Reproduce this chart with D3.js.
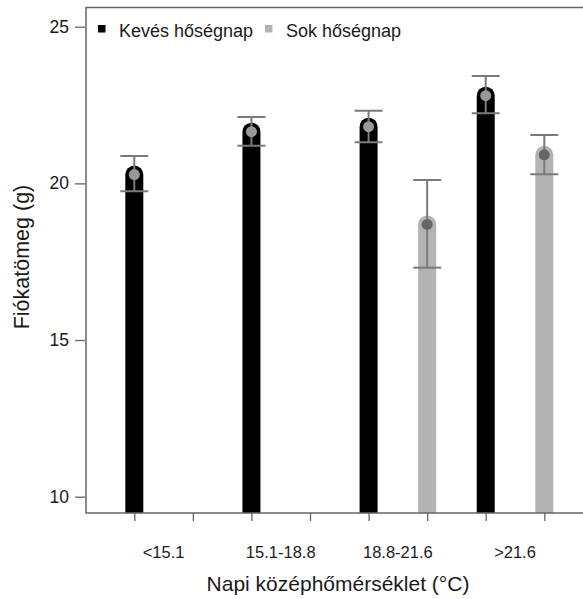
<!DOCTYPE html>
<html>
<head>
<meta charset="utf-8">
<script src="https://cdn.jsdelivr.net/npm/d3@7"></script>
<style>
  html, body { margin: 0; padding: 0; background: #fff; }
  svg { display: block; font-family: Arial, "Liberation Sans", sans-serif; }
</style>
</head>
<body>
<svg id="chart" width="583" height="599"></svg>
<script>
const categories = ["<15.1", "15.1-18.8", "18.8-21.6", ">21.6"];
const seriesNames = ["Kevés hőségnap", "Sok hőségnap"];
const fewMean = [20.28, 21.65, 21.81, 22.80];
const fewLow  = [19.75, 21.20, 21.31, 22.24];
const fewHigh = [20.87, 22.12, 22.32, 23.43];
const manyMean = [null, null, 18.69, 20.91];
const manyLow  = [null, null, 17.31, 20.29];
const manyHigh = [null, null, 20.11, 21.54];
const yTicks = [10, 15, 20, 25];
const xTitle = "Napi középhőmérséklet (°C)";
const yTitle = "Fiókatömeg (g)";

const svg = d3.select("#chart");
const frame = { left: 86, top: 7.5, right: 600, bottom: 513 };

const y = d3.scaleLinear().domain([10, 25]).range([496.7, 26.7]);
// slot index: group*2 + series
const x = d3.scaleLinear().domain([0, 7]).range([134.3, 544.3]);

const rows = [];
categories.forEach((c, i) => {
  if (fewMean[i] != null) rows.push({ cat: c, s: 0, slot: i * 2, mean: fewMean[i], lo: fewLow[i], hi: fewHigh[i] });
  if (manyMean[i] != null) rows.push({ cat: c, s: 1, slot: i * 2 + 1, mean: manyMean[i], lo: manyLow[i], hi: manyHigh[i] });
});

const barColor = ["#000000", "#b3b3b3"];
const pointColor = ["#999999", "#666666"];
const errColor = "#7a7a7a";
const barW = 18;

svg.append("defs").append("clipPath").attr("id", "plotclip")
  .append("rect").attr("x", frame.left).attr("y", frame.top)
  .attr("width", frame.right - frame.left).attr("height", frame.bottom - frame.top);

const plot = svg.append("g").attr("clip-path", "url(#plotclip)");

// bars as thick round-capped lines
plot.selectAll("line.bar").data(rows).enter().append("line")
  .attr("class", "bar")
  .attr("x1", d => x(d.slot)).attr("x2", d => x(d.slot))
  .attr("y1", frame.bottom + 20).attr("y2", d => y(d.mean))
  .attr("stroke", d => barColor[d.s]).attr("stroke-width", barW)
  .attr("stroke-linecap", "round");

// error bars
const eb = plot.selectAll("g.err").data(rows).enter().append("g").attr("class", "err")
  .attr("stroke", errColor).attr("stroke-width", 2);
eb.append("line").attr("x1", d => x(d.slot)).attr("x2", d => x(d.slot))
  .attr("y1", d => y(d.lo)).attr("y2", d => y(d.hi));
eb.append("line").attr("x1", d => x(d.slot) - 14).attr("x2", d => x(d.slot) + 14)
  .attr("y1", d => y(d.hi)).attr("y2", d => y(d.hi));
eb.append("line").attr("x1", d => x(d.slot) - 14).attr("x2", d => x(d.slot) + 14)
  .attr("y1", d => y(d.lo)).attr("y2", d => y(d.lo));

// points
plot.selectAll("circle.pt").data(rows).enter().append("circle")
  .attr("cx", d => x(d.slot)).attr("cy", d => y(d.mean)).attr("r", 5.5)
  .attr("fill", d => pointColor[d.s]);

// frame (top, left, bottom)
const axisColor = "#666";
svg.append("path")
  .attr("d", `M${frame.right},${frame.top}H${frame.left}V${frame.bottom}H${frame.right}`)
  .attr("fill", "none").attr("stroke", axisColor).attr("stroke-width", 1.5);

// y axis ticks
const yAxis = d3.axisLeft(y).tickValues(yTicks).tickSize(10).tickPadding(6).tickFormat(d3.format("d"));
const gy = svg.append("g").attr("transform", `translate(${frame.left - 1},0)`).call(yAxis);
gy.select(".domain").remove();
gy.selectAll(".tick line").attr("stroke", axisColor).attr("stroke-width", 1.3);
gy.selectAll(".tick text").attr("font-size", 17.5).attr("fill", "#1a1a1a")
  .attr("font-family", "Arial, 'Liberation Sans', sans-serif");

// x axis ticks (one per slot)
const slots = d3.range(8);
const xAxis = d3.axisBottom(x).tickValues(slots).tickSize(8).tickFormat("");
const gx = svg.append("g").attr("transform", `translate(0,${frame.bottom})`).call(xAxis);
gx.select(".domain").remove();
gx.selectAll(".tick line").attr("stroke", axisColor).attr("stroke-width", 1.3);

// category labels centered between slots
svg.selectAll("text.cat").data(categories).enter().append("text")
  .attr("class", "cat")
  .attr("x", (d, i) => (x(i * 2) + x(i * 2 + 1)) / 2)
  .attr("y", 558).attr("text-anchor", "middle")
  .attr("font-size", 16.5).attr("fill", "#1a1a1a").text(d => d);

// axis titles
svg.append("text").attr("x", 338).attr("y", 591).attr("text-anchor", "middle")
  .attr("font-size", 21).attr("fill", "#1a1a1a").text(xTitle);
svg.append("text").attr("transform", "translate(29,257) rotate(-90)")
  .attr("text-anchor", "middle").attr("font-size", 21.5).attr("fill", "#1a1a1a").text(yTitle);

// legend
const leg = svg.append("g");
const legX = [98, 265];
const legTextX = [119, 286];
seriesNames.forEach((n, i) => {
  leg.append("rect").attr("x", legX[i]).attr("y", 25).attr("width", 7.5).attr("height", 7.5)
    .attr("fill", barColor[i]);
  leg.append("text").attr("x", legTextX[i]).attr("y", 36.5).attr("font-size", 18)
    .attr("fill", "#1a1a1a").text(n);
});
</script>
</body>
</html>
